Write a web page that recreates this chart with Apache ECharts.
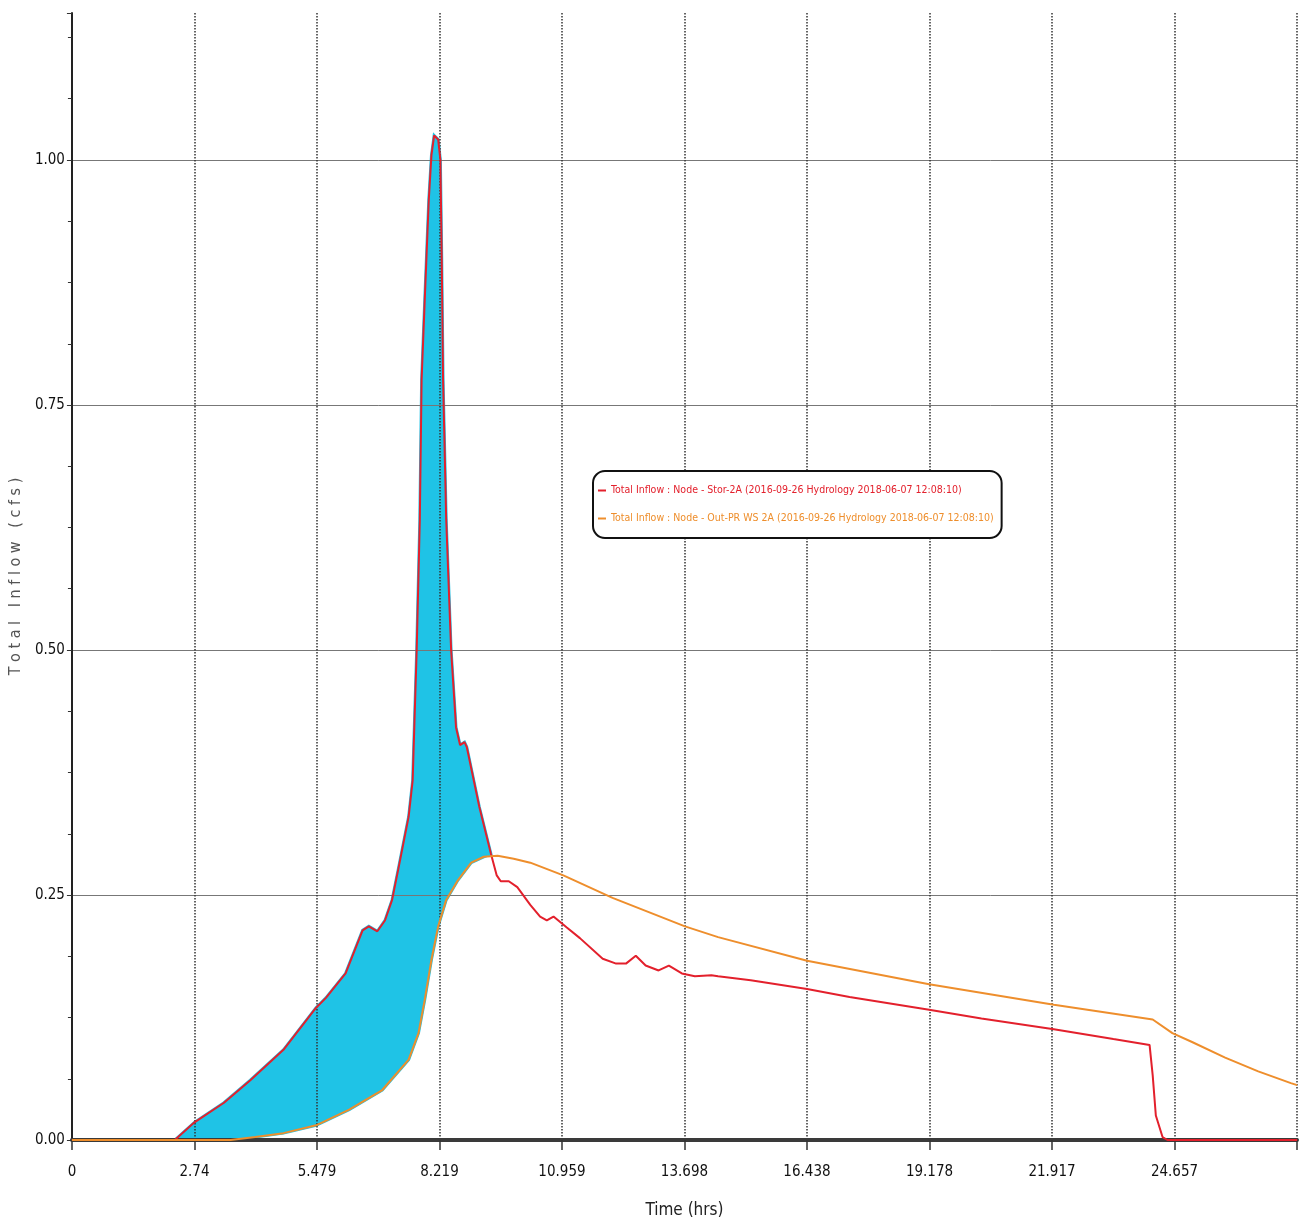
<!DOCTYPE html>
<html>
<head>
<meta charset="utf-8">
<script src="https://cdn.jsdelivr.net/npm/echarts@6/dist/echarts.min.js"></script>
<style>html,body{margin:0;padding:0;background:#fff}#c{width:1300px;height:1224px}</style>
</head>
<body>
<div id="c"></div>
<script>
// ---- data (time in hrs, inflow in cfs) ----
const xTickLabels = ['0', '2.74', '5.479', '8.219', '10.959', '13.698', '16.438', '19.178', '21.917', '24.657'];
const yTickLabels = ['0.00', '0.25', '0.50', '0.75', '1.00'];

const redName = 'Total Inflow : Node - Stor-2A (2016-09-26 Hydrology 2018-06-07 12:08:10)';
const orangeName = 'Total Inflow : Node - Out-PR WS 2A (2016-09-26 Hydrology 2018-06-07 12:08:10)';

const storInflow = [
  [0, 0], [2.30, 0], [2.74, 0.018], [3.40, 0.038], [3.99, 0.061], [4.73, 0.092],
  [5.46, 0.135], [5.68, 0.145], [6.12, 0.170], [6.50, 0.214], [6.64, 0.218], [6.83, 0.213],
  [7.00, 0.224], [7.16, 0.245], [7.31, 0.279], [7.53, 0.330], [7.62, 0.367], [7.71, 0.500],
  [7.78, 0.633], [7.82, 0.776], [7.89, 0.857], [7.98, 0.959], [8.04, 1.005], [8.10, 1.025],
  [8.19, 1.021], [8.24, 1.000], [8.27, 0.900], [8.30, 0.776], [8.37, 0.633], [8.48, 0.500],
  [8.59, 0.421], [8.68, 0.403], [8.78, 0.406], [8.83, 0.401], [9.11, 0.340], [9.37, 0.292],
  [9.50, 0.270], [9.59, 0.264], [9.77, 0.264], [9.96, 0.258], [10.25, 0.240], [10.47, 0.228],
  [10.62, 0.224], [10.77, 0.228], [11.06, 0.217], [11.36, 0.206], [11.87, 0.185], [12.17, 0.180],
  [12.39, 0.180], [12.61, 0.188], [12.83, 0.178], [13.12, 0.173], [13.35, 0.178], [13.64, 0.170],
  [13.93, 0.167], [14.30, 0.168], [14.45, 0.167], [15.18, 0.163], [16.44, 0.154], [17.39, 0.146],
  [19.17, 0.133], [20.34, 0.124], [21.96, 0.113], [23.29, 0.103], [24.10, 0.097], [24.17, 0.066],
  [24.24, 0.025], [24.39, 0.003], [24.50, 0], [27.40, 0]
];

const outInflow = [
  [0, 0], [3.55, 0], [4.10, 0.003], [4.73, 0.007], [5.46, 0.015], [6.20, 0.031], [6.94, 0.051],
  [7.53, 0.082], [7.75, 0.109], [7.89, 0.143], [8.04, 0.184], [8.19, 0.218], [8.37, 0.245],
  [8.63, 0.265], [8.93, 0.283], [9.21, 0.289], [9.52, 0.290], [9.88, 0.287], [10.25, 0.283],
  [10.99, 0.270], [12.09, 0.247], [13.71, 0.218], [14.45, 0.207], [16.44, 0.183], [19.17, 0.159],
  [21.96, 0.138], [24.17, 0.123], [24.61, 0.109], [25.05, 0.100], [25.79, 0.084], [26.53, 0.070],
  [27.26, 0.058], [27.40, 0.056]
];

// hand-highlighted band between the two hydrographs (time range, hrs)
const highlightRange = [2.30, 9.37];

// ---- chart ----
const FONT = "'Liberation Sans Narrow','DejaVu Sans Condensed','Arial Narrow',sans-serif";
const chart = echarts.init(document.getElementById('c'), null, {renderer: 'canvas'});

const bandTop = storInflow.filter(p => p[0] >= highlightRange[0] && p[0] <= highlightRange[1]);
const bandBottom = outInflow.filter(p => p[0] >= highlightRange[0] && p[0] <= highlightRange[1]).reverse();
const bandPoints = bandTop.concat(bandBottom);

const option = {
  animation: false,
  backgroundColor: '#ffffff',
  grid: {left: 67, right: -7, top: 13, bottom: 84, containLabel: false},
  legend: {
    orient: 'vertical',
    left: 593,
    top: 471,
    data: [
      {name: redName, textStyle: {color: '#e3202c'}},
      {name: orangeName, textStyle: {color: '#ee8e2c'}}
    ],
    icon: 'rect',
    itemWidth: 8,
    itemHeight: 2,
    itemGap: 17,
    padding: [14, 8, 14, 5],
    backgroundColor: '#ffffff',
    borderColor: '#111111',
    borderWidth: 2,
    borderRadius: 12,
    textStyle: {fontFamily: FONT, fontSize: 10.5},
    selectedMode: false,
    z: 10
  },
  xAxis: {
    type: 'value',
    min: 0,
    max: 27.397,
    interval: 2.7397,
    name: 'Time (hrs)',
    nameLocation: 'middle',
    nameGap: 62,
    nameTextStyle: {fontFamily: FONT, fontSize: 17, color: '#222'},
    axisLine: {show: true, onZero: false, lineStyle: {color: '#3a3a3a', width: 4}},
    axisTick: {show: true, inside: false, length: 10, lineStyle: {color: '#333', width: 1.5}},
    axisLabel: {
      margin: 25, fontFamily: FONT, fontSize: 15, color: '#111',
      formatter: (v, i) => (xTickLabels[i] !== undefined ? xTickLabels[i] : '')
    },
    splitLine: {show: true, lineStyle: {type: 'dotted', color: '#333', width: 1.5}}
  },
  yAxis: {
    type: 'value',
    min: 0,
    max: 1.15,
    interval: 0.25,
    name: 'T o t a l   I n f l o w   ( c f s )',
    nameLocation: 'middle',
    nameGap: 35,
    nameRotate: 90,
    nameTextStyle: {fontFamily: FONT, fontSize: 16, color: '#555'},
    axisLine: {show: true, lineStyle: {color: '#222', width: 2}},
    axisTick: {show: true, length: 5, lineStyle: {color: '#333', width: 1}},
    minorTick: {show: true, splitNumber: 4, length: 4, lineStyle: {color: '#333', width: 1}},
    axisLabel: {
      margin: 7, fontFamily: FONT, fontSize: 15, color: '#111',
      formatter: (v, i) => (yTickLabels[i] !== undefined ? yTickLabels[i] : '')
    },
    splitLine: {show: true, showMaxLine: false, lineStyle: {color: '#777', width: 1}}
  },
  series: [
    {
      type: 'custom',
      name: 'highlight',
      silent: true,
      z: -1,
      data: [0],
      renderItem: function (params, api) {
        const pts = bandPoints.map(p => api.coord(p));
        return {
          type: 'polygon',
          shape: {points: pts},
          style: {fill: '#1fc3e6', stroke: '#1fc3e6', lineWidth: 3}
        };
      }
    },
    {
      type: 'line',
      name: redName,
      data: storInflow,
      showSymbol: false,
      lineStyle: {color: '#e3202c', width: 2},
      itemStyle: {color: '#e3202c'},
      z: 3
    },
    {
      type: 'line',
      name: orangeName,
      data: outInflow,
      showSymbol: false,
      lineStyle: {color: '#ee8e2c', width: 2},
      itemStyle: {color: '#ee8e2c'},
      z: 4
    }
  ]
};
chart.setOption(option);
</script>
</body>
</html>
